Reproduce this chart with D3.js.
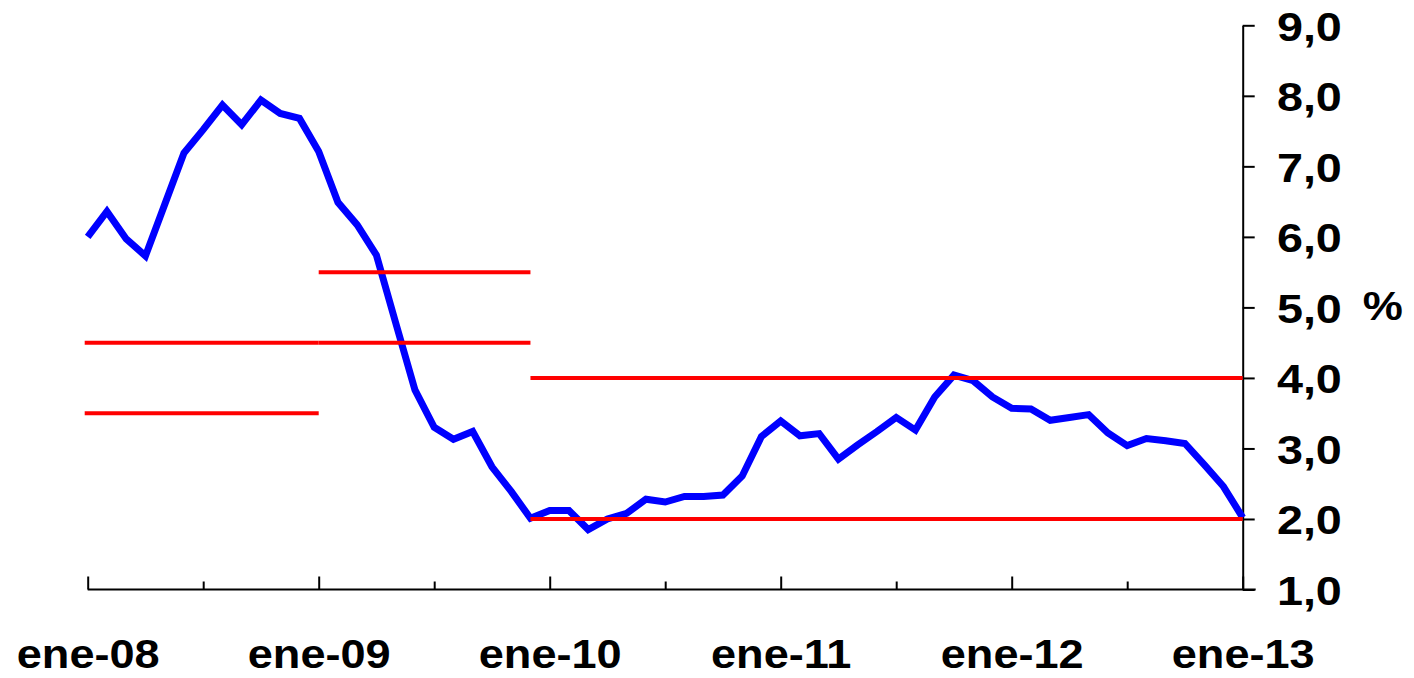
<!DOCTYPE html>
<html>
<head>
<meta charset="utf-8">
<script src="https://cdn.jsdelivr.net/npm/d3@7"></script>
<style>
  html, body { margin: 0; padding: 0; background: #ffffff; }
  svg { display: block; }
  text { font-family: "Liberation Sans", Arial, Helvetica, sans-serif; font-weight: bold; fill: #000; }
</style>
</head>
<body>
<svg id="chart" width="1414" height="678"></svg>
<script>
// ---- data (monthly, ene-08 .. ene-13) ----
const months = d3.range(0, 61); // month index from ene-08
const inflation = [
  6.00, 6.36, 5.97, 5.73, 6.46, 7.19, 7.52, 7.87, 7.59, 7.94, 7.75, 7.68,
  7.21, 6.49, 6.17, 5.74, 4.78, 3.83, 3.30, 3.13, 3.24, 2.74, 2.39, 2.01,
  2.12, 2.12, 1.85, 2.00, 2.08, 2.28, 2.24, 2.32, 2.32, 2.34, 2.61, 3.17,
  3.39, 3.18, 3.21, 2.85, 3.05, 3.24, 3.44, 3.26, 3.73, 4.04, 3.96, 3.73,
  3.57, 3.56, 3.40, 3.44, 3.48, 3.22, 3.04, 3.14, 3.11, 3.07, 2.77, 2.46,
  2.02
];
// target band limits (red lines)
const bandStart = [0, 12, 23];
const bandEnd   = [12, 23, 60];
const bandLow   = [3.5, 4.5, 2.0];
const bandHigh  = [4.5, 5.5, 4.0];

const xTickValues = d3.range(0, 61, 6);
const xTickLabels = ["ene-08", "ene-09", "ene-10", "ene-11", "ene-12", "ene-13"];
const yTickValues = [1, 2, 3, 4, 5, 6, 7, 8, 9];
const yUnit = "%";

// ---- layout ----
const svg = d3.select("#chart");
const x = d3.scaleLinear().domain([0, 60]).range([87.7, 1242.7]);
const y = d3.scaleLinear().domain([1, 9]).range([589.5, 25.3]);
const stretch = "scale(1.1,1)";

// x axis
const xAxis = d3.axisBottom(x)
  .tickValues(xTickValues)
  .tickSizeInner(-13)
  .tickSizeOuter(0)
  .tickFormat(i => i % 12 === 0 ? xTickLabels[i / 12] : "");
const gx = svg.append("g").attr("transform", `translate(0,${y(1)})`).call(xAxis);
gx.select(".domain").remove();
gx.selectAll(".tick line")
  .attr("stroke", "#000").attr("stroke-width", 2)
  .attr("y2", i => i % 12 === 0 ? -13 : -8);
gx.selectAll(".tick text")
  .attr("y", 79).attr("dy", null)
  .attr("font-size", 41)
  .attr("transform", stretch);
gx.append("line")
  .attr("x1", x(0)).attr("x2", x(60) + 13)
  .attr("stroke", "#000").attr("stroke-width", 2);

// y axis (right)
const yAxis = d3.axisRight(y)
  .tickValues(yTickValues)
  .tickSizeInner(12)
  .tickSizeOuter(0)
  .tickFormat(d => d3.format(".1f")(d).replace(".", ","));
const gy = svg.append("g").attr("transform", `translate(${x(60)},0)`).call(yAxis);
gy.select(".domain").attr("stroke", "#000").attr("stroke-width", 2);
gy.selectAll(".tick line").attr("stroke", "#000").attr("stroke-width", 2);
gy.selectAll(".tick text")
  .attr("x", 30).attr("y", 15).attr("dy", null)
  .attr("text-anchor", "start")
  .attr("font-size", 41)
  .attr("transform", "scale(1.14,1)");

svg.append("text")
  .attr("transform", `translate(${x(60) + 120},${y(5) + 13}) ${stretch}`)
  .attr("font-size", 41)
  .text(yUnit);

// blue line
const line = d3.line().x((d, i) => x(months[i])).y(d => y(d));
svg.append("path")
  .datum(inflation)
  .attr("d", line)
  .attr("fill", "none")
  .attr("stroke", "#0000ff")
  .attr("stroke-width", 7)
  .attr("stroke-linejoin", "miter");

// red target lines
const segs = [];
bandStart.forEach((s, k) => {
  segs.push({ s, e: bandEnd[k], v: bandLow[k] });
  segs.push({ s, e: bandEnd[k], v: bandHigh[k] });
});
svg.append("g").selectAll("line").data(segs).join("line")
  .attr("x1", d => x(d.s) - (d.s === 0 ? 3 : 0)).attr("x2", d => x(d.e))
  .attr("y1", d => y(d.v)).attr("y2", d => y(d.v))
  .attr("stroke", "#ff0000").attr("stroke-width", 4);
</script>
</body>
</html>
